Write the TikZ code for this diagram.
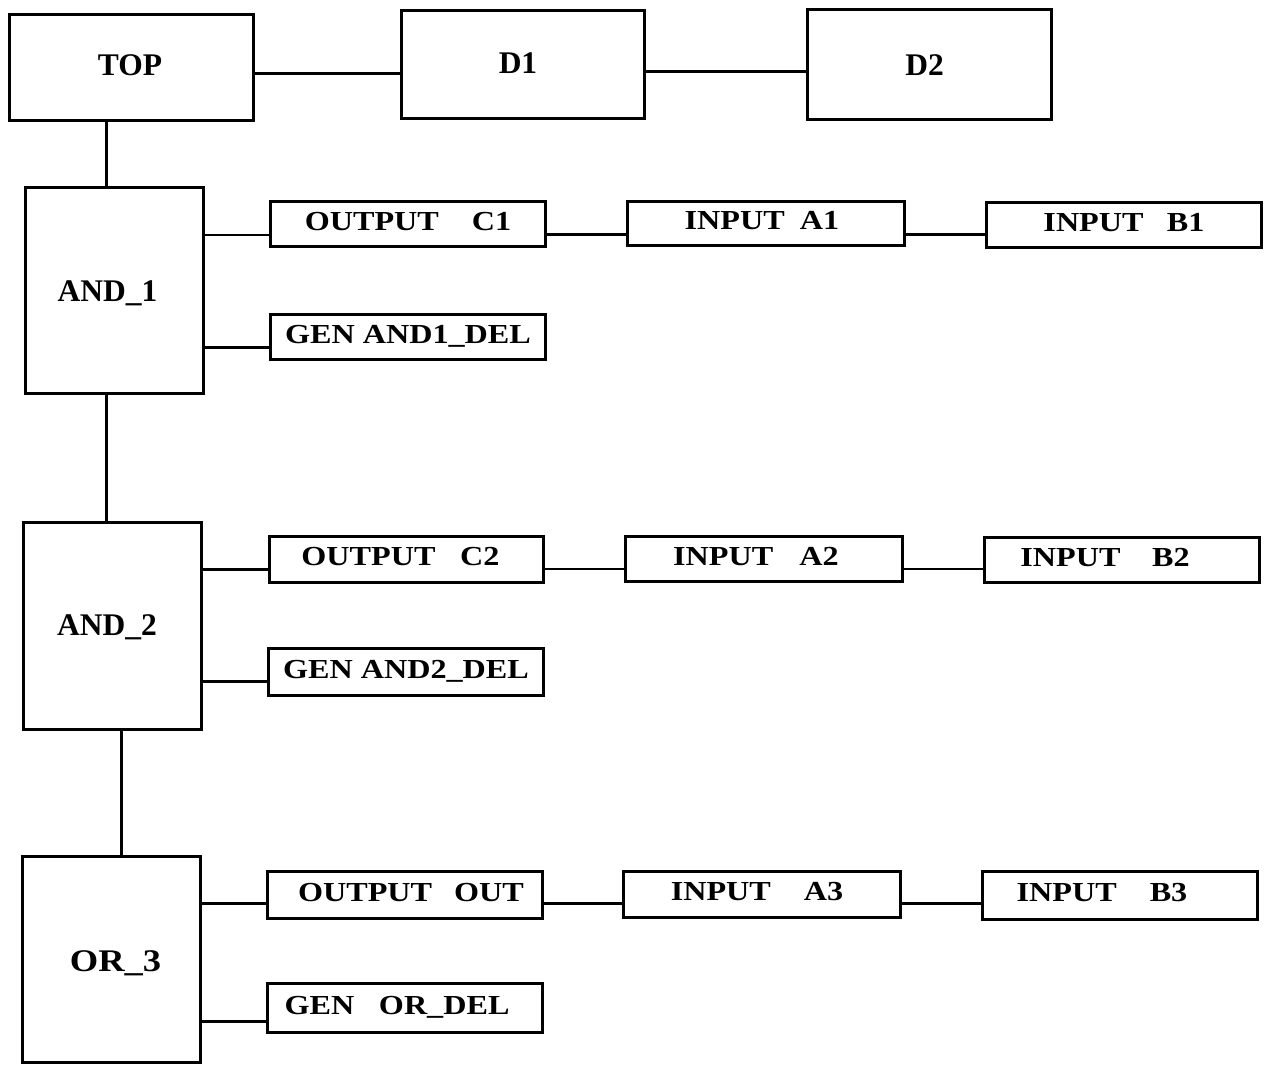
\documentclass[tikz,border=0pt]{standalone}
\usepackage{fontspec}
\newfontfamily\bigf{Liberation Serif}
\newfontfamily\orf{Liberation Serif}[FakeStretch=1.16]
\newfontfamily\smallf{Liberation Serif}[FakeStretch=1.17]
\begin{document}
\begin{tikzpicture}[x=1pt,y=-1pt,
  box/.style={draw, line width=3pt, anchor=north west, inner sep=0pt},
  big/.style={box, font=\bigf\fontsize{31.5}{36}\bfseries\selectfont, text height=21pt, text depth=0pt},
  small/.style={box, font=\smallf\fontsize{27.5}{32}\bfseries\selectfont, text height=18pt, text depth=6pt},
  link/.style={line width=2.8pt}]
\useasboundingbox (0,0) rectangle (1269,1065);
% top row
\node[big, minimum width=244, minimum height=106, text depth=5pt] (top) at (8,13) {TOP\hspace*{3pt}};
\node[big, minimum width=243, minimum height=108, text depth=3pt] (d1) at (400,9) {D1\hspace*{10pt}};
\node[big, minimum width=244, minimum height=110] (d2) at (806,8) {D2\hspace*{10pt}};
% gates
\node[big, minimum width=178, minimum height=206] (and1) at (24,186) {AND\_1\hspace*{14pt}};
\node[big, minimum width=178, minimum height=207, text depth=2pt] (and2) at (22,521) {AND\_2\hspace*{11pt}};
\node[big, minimum width=178, minimum height=206, text height=24pt, font=\orf\fontsize{31.5}{36}\bfseries\selectfont] (or3) at (21,855) {\hspace*{8pt}OR\_3};
% row 1
\node[small, minimum width=275, minimum height=45] (oc1) at (269,200) {OUTPUT\hspace{1.2em}C1};
\node[small, minimum width=277, minimum height=44] (ia1) at (626,200) {INPUT\hspace{.55em}A1\hspace*{8pt}};
\node[small, minimum width=275, minimum height=45] (ib1) at (985,201) {INPUT\hspace{.85em}B1};
\node[small, minimum width=275, minimum height=45] (g1) at (269,313) {GEN AND1\_DEL};
% row 2
\node[small, minimum width=274, minimum height=46] (oc2) at (268,535) {OUTPUT\hspace{.9em}C2\hspace*{12pt}};
\node[small, minimum width=277, minimum height=45] (ia2) at (624,535) {INPUT\hspace{.95em}A2\hspace*{16pt}};
\node[small, minimum width=275, minimum height=45] (ib2) at (983,536) {INPUT\hspace{1.15em}B2\hspace*{34pt}};
\node[small, minimum width=275, minimum height=47] (g2) at (267,647) {GEN AND2\_DEL};
% row 3
\node[small, minimum width=275, minimum height=47] (oo3) at (266,870) {\hspace*{12pt}OUTPUT\hspace{.8em}OUT};
\node[small, minimum width=277, minimum height=46] (ia3) at (622,870) {INPUT\hspace{1.2em}A3\hspace*{10pt}};
\node[small, minimum width=275, minimum height=48] (ib3) at (981,870) {INPUT\hspace{1.2em}B3\hspace*{36pt}};
\node[small, minimum width=275, minimum height=49] (g3) at (266,982) {GEN\hspace{.9em}OR\_DEL\hspace*{16pt}};
% connector end points
\coordinate (ptd1) at ([yshift=-6pt]d1.west |- top.east);
\coordinate (ptd2) at ([yshift=-7pt]d2.west |- d1.east);
\coordinate (poc1) at ([yshift=-11pt]oc1.west);
\coordinate (pia1) at ([yshift=-11pt]ia1.west);
\coordinate (pib1) at ([yshift=-11pt]ib1.west |- ia1.west);
\coordinate (pg1) at ([yshift=-10.5pt]g1.west);
\coordinate (poc2) at ([yshift=-10pt]oc2.west);
\coordinate (pia2) at ([yshift=-10pt]ia2.west);
\coordinate (pib2) at ([yshift=-10pt]ib2.west |- ia2.west);
\coordinate (pg2) at ([yshift=-9.5pt]g2.west);
\coordinate (poo3) at ([yshift=-8.5pt]oo3.west);
\coordinate (pia3) at ([yshift=-8.5pt]ia3.west |- oo3.west);
\coordinate (pib3) at ([yshift=-8.5pt]ib3.west |- oo3.west);
\coordinate (pg3) at ([yshift=-13.5pt]g3.west);
% top row connectors
\draw[link] (top.east |- ptd1) -- (ptd1);
\draw[link] (d1.east |- ptd2) -- (ptd2);
% vertical spine
\draw[link] ([xshift=-8pt]and1.north) -- ([xshift=-8pt]and1.north |- top.south);
\draw[link] ([xshift=-6pt]and2.north) -- ([xshift=-6pt]and2.north |- and1.south);
\draw[link] ([xshift=10pt]or3.north) -- ([xshift=10pt]or3.north |- and2.south);
% row connectors
\draw[link] (and1.east |- poc1) -- (poc1);
\draw[link] (oc1.east |- pia1) -- (pia1);
\draw[link] (ia1.east |- pib1) -- (pib1);
\draw[link] (and1.east |- pg1) -- (pg1);
\draw[link] (and2.east |- poc2) -- (poc2);
\draw[link] (oc2.east |- pia2) -- (pia2);
\draw[link] (ia2.east |- pib2) -- (pib2);
\draw[link] (and2.east |- pg2) -- (pg2);
\draw[link] (or3.east |- poo3) -- (poo3);
\draw[link] (oo3.east |- pia3) -- (pia3);
\draw[link] (ia3.east |- pib3) -- (pib3);
\draw[link] (or3.east |- pg3) -- (pg3);
\end{tikzpicture}
\end{document}
